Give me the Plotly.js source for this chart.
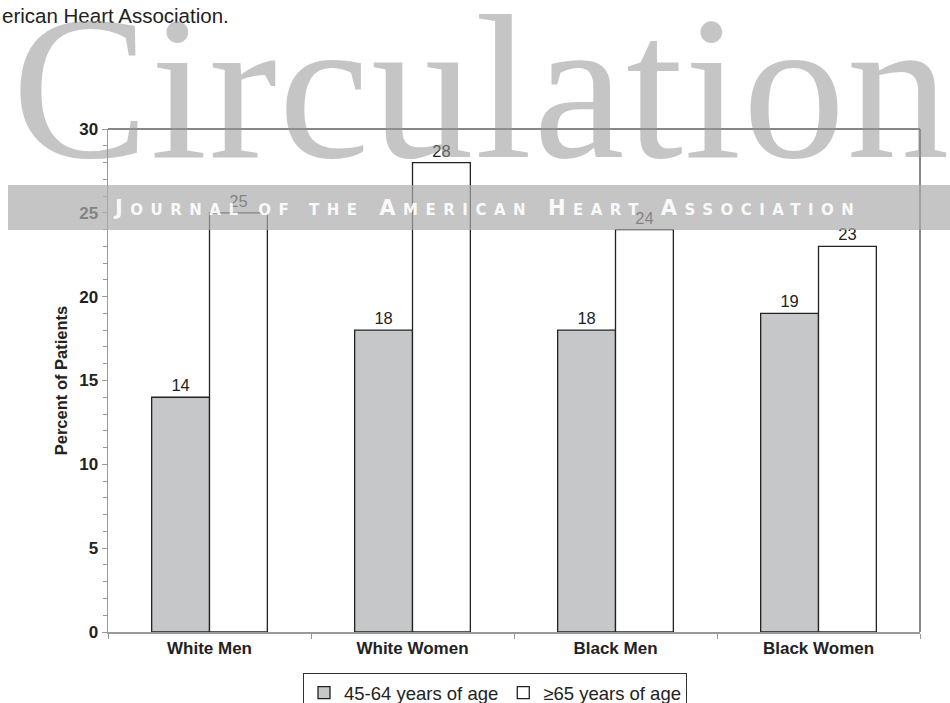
<!DOCTYPE html>
<html>
<head>
<meta charset="utf-8">
<script src="https://cdn.plot.ly/plotly-3.0.1.min.js"></script>
<style>html,body{margin:0;padding:0;background:#fff;}#chart{width:950px;height:703px;}</style>
</head>
<body>
<div id="chart"></div>
<script>
var categories = ['White Men', 'White Women', 'Black Men', 'Black Women'];
var seriesNames = ['45-64 years of age', '\u226565 years of age'];
var younger = [14, 18, 18, 19];
var older = [25, 28, 24, 23];
var yTicks = [0, 5, 10, 15, 20, 25, 30];

var W = 950, H = 703, L = 108, R = 30, T = 129, B = 71;
var pw = W - L - R, ph = H - T - B;
function px(x) { return (x - L) / pw; }
function py(y) { return (H - B - y) / ph; }

var FONT = 'Liberation Sans, Arial, sans-serif';
var lineStyle = {color: '#222', width: 1.3};

var traces = [
  {type: 'bar', name: seriesNames[0], x: categories, y: younger,
   marker: {color: '#c6c7c9', line: lineStyle},
   text: younger.map(String), textposition: 'outside', cliponaxis: false,
   textfont: {family: FONT, size: 16.5, color: '#222'}},
  {type: 'bar', name: seriesNames[1], x: categories, y: older,
   marker: {color: '#ffffff', line: lineStyle},
   text: older.map(String), textposition: 'outside', cliponaxis: false,
   textfont: {family: FONT, size: 16.5, color: '#222'}}
];

var layout = {
  width: W, height: H,
  margin: {l: L, r: R, t: T, b: B, pad: 0, autoexpand: false},
  paper_bgcolor: '#fff', plot_bgcolor: '#fff',
  font: {family: FONT, color: '#222'},
  barmode: 'group', bargap: 0.43, bargroupgap: 0,
  showlegend: true,
  legend: {orientation: 'h', xref: 'container', yref: 'container',
           x: 303 / W, xanchor: 'left', y: 1 - 673 / H, yanchor: 'top',
           itemwidth: 30,
           bgcolor: '#fff', bordercolor: '#333', borderwidth: 1,
           font: {family: FONT, size: 18.5, color: '#222'}, traceorder: 'normal'},
  xaxis: {showline: true, linecolor: '#999', linewidth: 1.5,
          ticks: 'outside', tickson: 'boundaries', ticklen: 5, tickcolor: '#999',
          tickfont: {family: FONT, size: 17, color: '#222', weight: 'bold'},
          showgrid: false, zeroline: false, fixedrange: true},
  yaxis: {range: [0, 30], tickvals: yTicks, ticktext: yTicks.map(String),
          showline: true, linecolor: '#999', linewidth: 1.5,
          ticks: 'outside', ticklen: 5, tickcolor: '#999',
          minor: {dtick: 1, ticks: 'outside', ticklen: 4, tickcolor: '#999', showgrid: false},
          tickfont: {family: FONT, size: 17, color: '#222', weight: 'bold'},
          title: {text: 'Percent of Patients', standoff: 7,
                  font: {family: FONT, size: 16.5, color: '#222', weight: 'bold'}},
          showgrid: false, zeroline: false, fixedrange: true},
  shapes: [
    {type: 'line', xref: 'paper', yref: 'paper', x0: 0, x1: 1, y0: 1, y1: 1,
     line: {color: '#111', width: 1}},
    {type: 'line', xref: 'paper', yref: 'paper', x0: 1, x1: 1, y0: 0, y1: 1,
     line: {color: '#111', width: 1}},
    {type: 'rect', xref: 'paper', yref: 'paper', layer: 'above',
     x0: px(8), x1: px(952), y0: py(230), y1: py(185),
     fillcolor: 'rgb(172,172,172)', opacity: 0.7, line: {width: 0}}
  ],
  annotations: [
    {xref: 'paper', yref: 'paper', x: px(0), y: py(15), xanchor: 'left', yanchor: 'middle',
     text: 'erican Heart Association.', showarrow: false,
     font: {family: FONT, size: 20.5, color: '#222'}},
    {xref: 'paper', yref: 'paper', x: px(10), y: py(87), xanchor: 'left', yanchor: 'middle',
     text: '<span style="letter-spacing:1.5px">Circulation</span>', showarrow: false,
     font: {family: 'Liberation Serif, Times New Roman, serif', size: 205, color: 'rgba(150,150,150,0.55)'}},
    {xref: 'paper', yref: 'paper', x: px(487), y: py(208), xanchor: 'center', yanchor: 'middle',
     text: '<span style="letter-spacing:7.5px">J<span style="font-size:15px">OURNAL OF THE</span> A<span style="font-size:15px">MERICAN</span> H<span style="font-size:15px">EART</span> A<span style="font-size:15px">SSOCIATION</span></span>',
     showarrow: false,
     font: {family: 'DejaVu Sans, sans-serif', size: 21, color: 'rgba(255,255,255,0.92)', weight: 'bold'}}
  ]
};

Plotly.newPlot('chart', traces, layout, {displayModeBar: false, staticPlot: true});
</script>
</body>
</html>
